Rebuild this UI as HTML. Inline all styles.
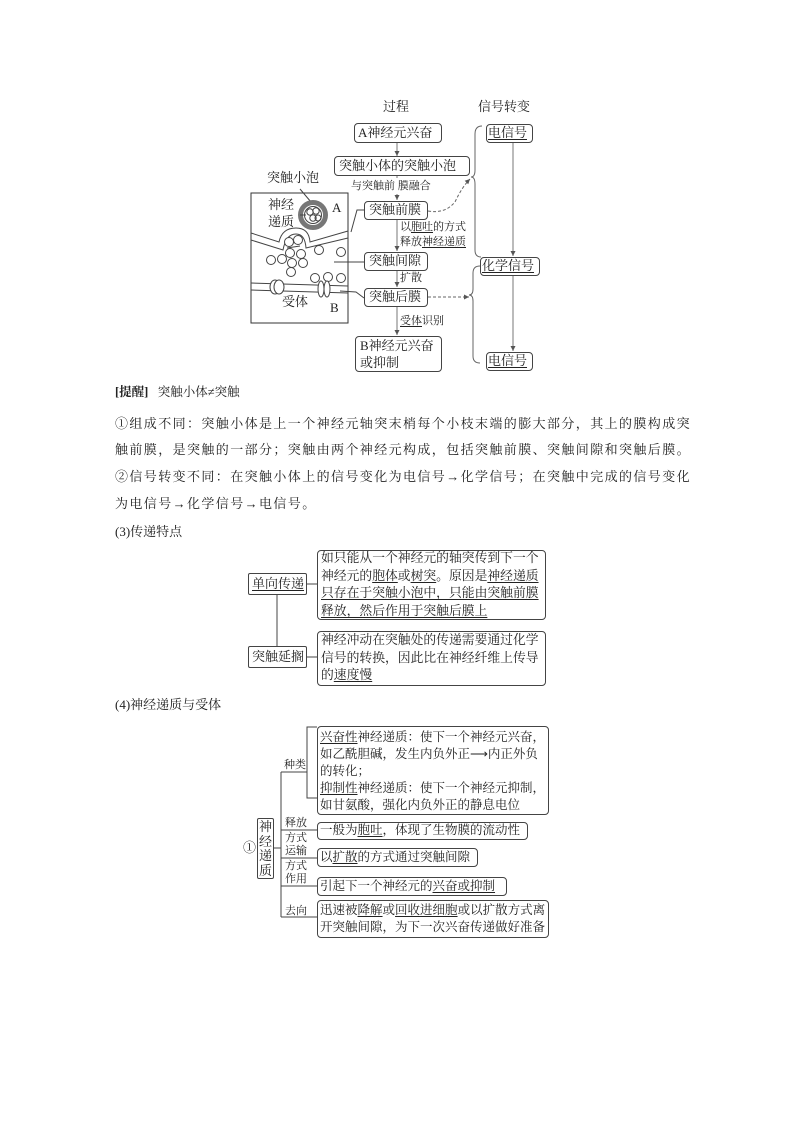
<!DOCTYPE html>
<html><head><meta charset="utf-8"><style>
body{margin:0;background:#fff}
#p{position:relative;width:794px;height:1123px;overflow:hidden;background:#fff;font-family:"Liberation Serif","Noto Serif CJK SC",serif;color:#222}
.t{position:absolute;white-space:nowrap;font-size:13px;line-height:16px}
.b{position:absolute;border:1px solid #444;border-radius:4px;box-sizing:border-box}
u{text-decoration:underline;text-underline-offset:2px}
.k{font-size:13px;letter-spacing:1.4px;line-height:16px}
.m{font-size:12.8px;letter-spacing:0;line-height:17.5px;position:absolute;white-space:nowrap}
.n{font-size:12.5px;letter-spacing:0;line-height:17px;position:absolute;white-space:nowrap}
</style></head><body><div id="p">
<svg width="794" height="1123" style="position:absolute;left:0;top:0" fill="none" stroke="#444" stroke-width="1">
<defs><marker id="a" markerWidth="6" markerHeight="6" refX="5" refY="3" orient="auto"><path d="M0,0.5 L5,3 L0,5.5z" fill="#555" stroke="none"/></marker></defs>
<line x1="397" y1="142" x2="397" y2="156" marker-end="url(#a)" stroke="#777"/>
<line x1="397" y1="175" x2="397" y2="200" marker-end="url(#a)" stroke="#777"/>
<line x1="397" y1="219" x2="397" y2="251" marker-end="url(#a)" stroke="#777"/>
<line x1="397" y1="271" x2="397" y2="287" marker-end="url(#a)" stroke="#777"/>
<line x1="397" y1="307" x2="397" y2="335" marker-end="url(#a)" stroke="#777"/>
<line x1="513" y1="142" x2="513" y2="256" marker-end="url(#a)" stroke="#777"/>
<line x1="513" y1="275" x2="513" y2="351" marker-end="url(#a)" stroke="#777"/>
<path d="M482,126 Q475,126 475,134 L475,170 Q475,177 471,177 Q475,177 475,184 L475,250 Q475,257 481,257" stroke="#666"/>
<path d="M480,266 Q473,266 473,273 L473,289 Q473,295 469,295 Q473,295 473,301 L473,356 Q473,363 480,363" stroke="#666"/>
<path d="M428,211 Q445,214 455,202 Q462,187 470,179" stroke="#666" stroke-dasharray="3,2" marker-end="url(#a)"/>
<line x1="428" y1="297" x2="469" y2="297" stroke="#666" stroke-dasharray="3,2" marker-end="url(#a)"/>
<rect x="251" y="193" width="97" height="130" stroke="#333"/>
<line x1="300" y1="189" x2="311" y2="202"/>
<circle cx="313" cy="215" r="12.5" stroke="#777" stroke-width="5"/>
<circle cx="313" cy="215" r="8.5" fill="#fff"/>
<circle cx="310" cy="212" r="3.2"/><circle cx="316" cy="211" r="3.2"/><circle cx="313" cy="218" r="3.2"/><circle cx="318" cy="218" r="3"/>
<line x1="300" y1="215" x2="306" y2="215"/>
<path d="M251,233 L279,242 Q282,228 296,228 Q309,228 310,242 L348,231"/>
<path d="M251,240 L283,250 Q286,234 296,234 Q305,234 306,248 L348,238"/>
<path d="M287,248 L300,246"/>
<g fill="#fff">
<circle cx="289" cy="242" r="4.5"/><circle cx="298" cy="240" r="4.5"/>
<circle cx="290" cy="253" r="4.5"/><circle cx="301" cy="254" r="4.5"/><circle cx="319" cy="250" r="4.5"/><circle cx="341" cy="252" r="4.5"/>
<circle cx="271" cy="260" r="4.5"/><circle cx="282" cy="259" r="4.5"/><circle cx="292" cy="263" r="4.5"/><circle cx="303" cy="263" r="4.5"/>
<circle cx="291" cy="272" r="4.5"/>
<circle cx="315" cy="278" r="4.5"/><circle cx="328" cy="277" r="4.5"/><circle cx="341" cy="278" r="4.5"/>
</g>
<path d="M251,283 L348,286"/><path d="M251,290 L348,293"/>
<ellipse cx="275" cy="287" rx="5" ry="7" fill="#fff"/><ellipse cx="279" cy="287" rx="5" ry="7" fill="#fff"/>
<ellipse cx="321" cy="289" rx="3" ry="8" fill="#fff"/><ellipse cx="327" cy="289" rx="3" ry="8" fill="#fff"/>
<path d="M364,210 L357,210 L351,232"/>
<line x1="334" y1="262" x2="364" y2="262"/>
<path d="M364,298 L356,292 L340,291"/>
<line x1="307" y1="584" x2="318" y2="584"/>
<line x1="307" y1="657" x2="318" y2="657"/>
<line x1="277" y1="594" x2="277" y2="646"/>
<line x1="281" y1="772" x2="281" y2="917"/>
<line x1="273" y1="848" x2="281" y2="848"/>
<line x1="281" y1="772" x2="307" y2="772"/>
<path d="M317,727 L307,727 L307,798 L317,798"/>
<line x1="281" y1="830" x2="317" y2="830"/>
<line x1="281" y1="858" x2="317" y2="858"/>
<line x1="281" y1="886" x2="317" y2="886"/>
<line x1="281" y1="917" x2="317" y2="917"/>
</svg>

<div class="t" style="left:383px;top:99px">过程</div>
<div class="t" style="left:478px;top:99px">信号转变</div>
<div class="b" style="left:354px;top:123px;width:88px;height:20px"></div>
<div class="t" style="left:358px;top:125px">A神经元兴奋</div>
<div class="b" style="left:334px;top:156px;width:136px;height:20px"></div>
<div class="t" style="left:339px;top:158px">突触小体的突触小泡</div>
<div class="t" style="left:351px;top:178px;font-size:11px;background:#fff">与突触前 膜融合</div>
<div class="b" style="left:364px;top:201px;width:64px;height:19px"></div>
<div class="t" style="left:369px;top:202px">突触前膜</div>
<div class="t" style="left:400px;top:219px;font-size:11px">以<u>胞吐</u>的方式</div>
<div class="t" style="left:400px;top:234px;font-size:11px">释放<u>神经递质</u></div>
<div class="b" style="left:364px;top:252px;width:64px;height:19px"></div>
<div class="t" style="left:369px;top:253px">突触间隙</div>
<div class="t" style="left:400px;top:270px;font-size:11px">扩散</div>
<div class="b" style="left:364px;top:288px;width:64px;height:19px"></div>
<div class="t" style="left:369px;top:289px">突触后膜</div>
<div class="t" style="left:400px;top:313px;font-size:11px"><u>受体</u>识别</div>
<div class="b" style="left:355px;top:336px;width:87px;height:36px"></div>
<div class="t" style="left:360px;top:337px;line-height:17px">B神经元兴奋<br>或抑制</div>
<div class="b" style="left:486px;top:124px;width:47px;height:19px"></div>
<div class="t" style="left:488px;top:125px"><u>电信号</u></div>
<div class="b" style="left:480px;top:257px;width:60px;height:19px"></div>
<div class="t" style="left:482px;top:258px"><u>化学信号</u></div>
<div class="b" style="left:486px;top:352px;width:47px;height:19px"></div>
<div class="t" style="left:488px;top:353px"><u>电信号</u></div>
<div class="t" style="left:267px;top:170px">突触小泡</div>
<div class="t" style="left:268px;top:197px">神经</div>
<div class="t" style="left:268px;top:214px">递质</div>
<div class="t" style="left:332px;top:200px">A</div>
<div class="t" style="left:282px;top:294px">受体</div>
<div class="t" style="left:330px;top:300px">B</div>

<div class="t" style="left:115px;top:384px;font-size:12.5px"><b>[提醒]</b>&nbsp;&nbsp; 突触小体≠突触</div>
<div class="t k" style="left:115px;top:416px">①组成不同：突触小体是上一个神经元轴突末梢每个小枝末端的膨大部分，其上的膜构成突</div>
<div class="t k" style="left:115px;top:442px">触前膜，是突触的一部分；突触由两个神经元构成，包括突触前膜、突触间隙和突触后膜。</div>
<div class="t k" style="left:115px;top:469px">②信号转变不同：在突触小体上的信号变化为电信号→化学信号；在突触中完成的信号变化</div>
<div class="t k" style="left:115px;top:496px">为电信号→化学信号→电信号。</div>

<div class="t" style="left:115px;top:524px">(3)传递特点</div>
<div class="b" style="left:248px;top:573px;width:59px;height:22px;border-radius:2px"></div>
<div class="t" style="left:252px;top:576px"><u>单向传递</u></div>
<div class="b" style="left:317px;top:550px;width:229px;height:70px"></div>
<div class="m" style="left:321px;top:550px">如只能从一个神经元的轴突传到下一个<br>神经元的<u>胞体</u>或<u>树突</u>。原因是<u>神经递质</u><br><u>只存在于突触小泡中，只能由突触前膜</u><br><u>释放，然后作用于突触后膜上</u></div>
<div class="b" style="left:248px;top:646px;width:59px;height:22px;border-radius:2px"></div>
<div class="t" style="left:252px;top:649px">突触延搁</div>
<div class="b" style="left:317px;top:631px;width:229px;height:55px"></div>
<div class="m" style="left:321px;top:632px">神经冲动在突触处的传递需要通过化学<br>信号的转换，因此比在神经纤维上传导<br>的<u>速度慢</u></div>

<div class="t" style="left:115px;top:697px">(4)神经递质与受体</div>
<div class="t" style="left:243px;top:840px">①</div>
<div class="b" style="left:257px;top:818px;width:17px;height:61px;border-radius:2px"></div>
<div class="t" style="left:259px;top:820px;line-height:14.5px;width:13px;white-space:normal">神经递质</div>
<div class="t" style="left:284px;top:757px;font-size:11px">种类</div>
<div class="t" style="left:285px;top:815px;font-size:11px">释放</div>
<div class="t" style="left:285px;top:830px;font-size:11px">方式</div>
<div class="t" style="left:285px;top:843px;font-size:11px">运输</div>
<div class="t" style="left:285px;top:858px;font-size:11px">方式</div>
<div class="t" style="left:285px;top:871px;font-size:11px">作用</div>
<div class="t" style="left:285px;top:903px;font-size:11px">去向</div>
<div class="b" style="left:317px;top:726px;width:232px;height:89px"></div>
<div class="n" style="left:320px;top:729px"><u>兴奋性</u>神经递质：使下一个神经元兴奋，<br>如乙酰胆碱，发生内负外正⟶内正外负<br>的转化；<br><u>抑制性</u>神经递质：使下一个神经元抑制，<br>如甘氨酸，强化内负外正的静息电位</div>
<div class="b" style="left:317px;top:822px;width:211px;height:18px"></div>
<div class="n" style="left:320px;top:822px">一般为<u>胞吐</u>，体现了生物膜的流动性</div>
<div class="b" style="left:317px;top:848px;width:161px;height:19px"></div>
<div class="n" style="left:320px;top:849px">以<u>扩散</u>的方式通过突触间隙</div>
<div class="b" style="left:317px;top:877px;width:190px;height:19px"></div>
<div class="n" style="left:320px;top:878px">引起下一个神经元的<u>兴奋或抑制</u></div>
<div class="b" style="left:317px;top:900px;width:232px;height:38px"></div>
<div class="n" style="left:320px;top:902px">迅速被<u>降解</u>或<u>回收进细胞</u>或以扩散方式离<br>开突触间隙，为下一次兴奋传递做好准备</div>
</div></body></html>
